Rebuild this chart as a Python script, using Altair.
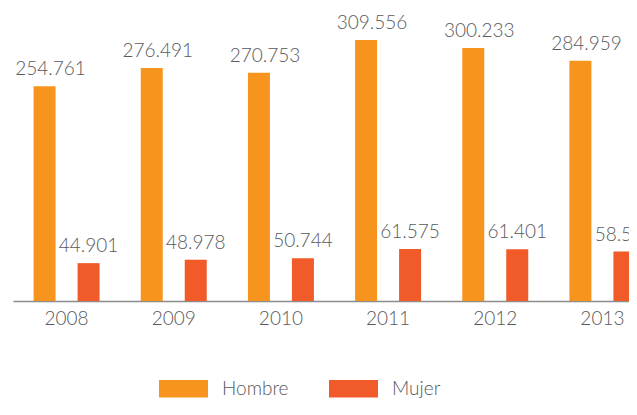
import altair as alt
import pandas as pd

years = ["2008", "2009", "2010", "2011", "2012", "2013"]
hombre = [254.761, 276.491, 270.753, 309.556, 300.233, 284.959]
mujer = [44.901, 48.978, 50.744, 61.575, 61.401, 58.593]
series = ["Hombre", "Mujer"]
colors = ["#F7941D", "#F15A29"]

rows = []
for i, y in enumerate(years):
    rows.append({"year": y, "sexo": series[0], "value": hombre[i]})
    rows.append({"year": y, "sexo": series[1], "value": mujer[i]})
df = pd.DataFrame(rows)

FONT = "Lato"
TXT = "#58595b"
FS = 19

base = alt.Chart(df).encode(
    x=alt.X(
        "year:N",
        sort=years,
        scale=alt.Scale(paddingInner=0, paddingOuter=0),
        axis=alt.Axis(
            title=None, labelAngle=0, ticks=False, tickSize=0, labelPadding=8,
            labelFontSize=FS, labelFont=FONT, labelFontWeight=300, labelColor=TXT,
            domainColor="#8c8c8c", domainWidth=1.5, grid=False,
        ),
    ),
    xOffset=alt.XOffset("sexo:N", sort=series,
                        scale=alt.Scale(paddingInner=0.5, paddingOuter=0.468)),
    y=alt.Y("value:Q", scale=alt.Scale(domain=[0, 320.3], nice=False), axis=None),
)

bars = base.mark_bar().encode(
    color=alt.Color(
        "sexo:N",
        scale=alt.Scale(domain=series, range=colors),
        legend=alt.Legend(
            title=None, orient="none", legendX=146, legendY=333,
            direction="horizontal",
            symbolType="M-1,-0.36H1V0.36H-1Z", symbolSize=2401,
            symbolStrokeWidth=0, symbolOpacity=1,
            labelFontSize=FS, labelFont=FONT, labelFontWeight=300,
            labelColor=TXT, labelOffset=14, columnPadding=40,
        ),
    )
)

label_h = base.transform_filter(alt.datum.sexo == series[0]).mark_text(
    dy=-11, dx=6, baseline="alphabetic", fontSize=FS, font=FONT, fontWeight=300, color=TXT
).encode(text=alt.Text("value:Q", format=".3f"))

label_m = base.transform_filter(alt.datum.sexo == series[1]).mark_text(
    dy=-11, baseline="alphabetic", fontSize=FS, font=FONT, fontWeight=300, color=TXT
).encode(text=alt.Text("value:Q", format=".3f"))

chart = (
    alt.layer(bars, label_h, label_m)
    .properties(
        width=643, height=270,
        autosize=alt.AutoSizeParams(type="none"),
        padding={"left": 5, "top": 23, "right": -27, "bottom": 99},
    )
    .configure_view(stroke=None)
)

chart.save("out.html", embed_options={"renderer": "svg", "actions": False})
